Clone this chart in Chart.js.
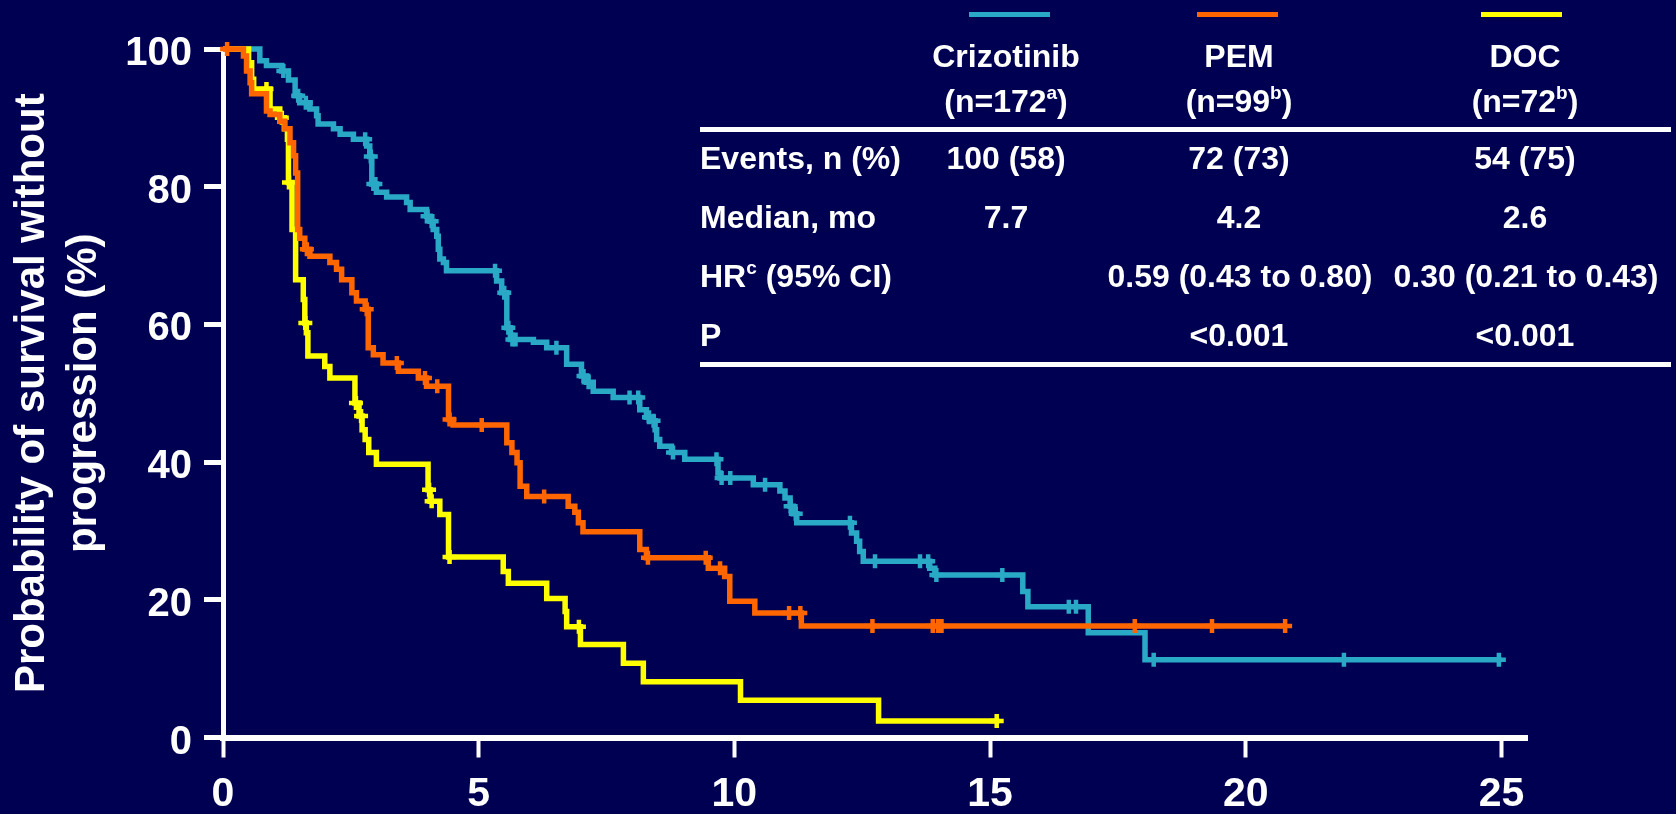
<!DOCTYPE html>
<html>
<head>
<meta charset="utf-8">
<script src="https://cdn.jsdelivr.net/npm/chart.js@4/dist/chart.umd.min.js"></script>
<style>
  body { margin: 0; background: #000052; }
  #wrap { position: relative; width: 1676px; height: 814px; overflow: hidden; font-family: "Liberation Sans", Arial, sans-serif; font-weight: bold; color: #fff; }
  #chart { position: absolute; left: 0; top: 0; }
  .t { position: absolute; font-size: 32px; line-height: 32px; white-space: nowrap; }
  .c { transform: translateX(-50%); }
  .t sup { font-size: 19px; line-height: 0; vertical-align: baseline; position: relative; top: -13px; }
  .rule { position: absolute; left: 700px; width: 971px; height: 5px; background: #fff; }
  .key { position: absolute; top: 12px; width: 81px; height: 5px; }
</style>
</head>
<body>
<div id="wrap">
  <canvas id="chart" width="1676" height="814"></canvas>

  <div class="key" style="left:969px;background:#29A9C5"></div>
  <div class="key" style="left:1197px;background:#FF6600"></div>
  <div class="key" style="left:1481px;background:#FFFF00"></div>

  <div class="t c" style="left:1006px;top:40px">Crizotinib</div>
  <div class="t c" style="left:1239px;top:40px">PEM</div>
  <div class="t c" style="left:1525px;top:40px">DOC</div>
  <div class="t c" style="left:1006px;top:85px">(n=172<sup>a</sup>)</div>
  <div class="t c" style="left:1239px;top:85px">(n=99<sup>b</sup>)</div>
  <div class="t c" style="left:1525px;top:85px">(n=72<sup>b</sup>)</div>
  <div class="rule" style="top:127px"></div>

  <div class="t" style="left:700px;top:142px">Events, n (%)</div>
  <div class="t c" style="left:1006px;top:142px">100 (58)</div>
  <div class="t c" style="left:1239px;top:142px">72 (73)</div>
  <div class="t c" style="left:1525px;top:142px">54 (75)</div>

  <div class="t" style="left:700px;top:201px">Median, mo</div>
  <div class="t c" style="left:1006px;top:201px">7.7</div>
  <div class="t c" style="left:1239px;top:201px">4.2</div>
  <div class="t c" style="left:1525px;top:201px">2.6</div>

  <div class="t" style="left:700px;top:260px">HR<sup>c</sup> (95% CI)</div>
  <div class="t c" style="left:1240px;top:260px">0.59 (0.43 to 0.80)</div>
  <div class="t c" style="left:1526px;top:260px">0.30 (0.21 to 0.43)</div>

  <div class="t" style="left:700px;top:319px">P</div>
  <div class="t c" style="left:1239px;top:319px">&lt;0.001</div>
  <div class="t c" style="left:1525px;top:319px">&lt;0.001</div>
  <div class="rule" style="top:362px"></div>
</div>

<script>
// Kaplan-Meier steps (months, % progression-free)
const critTimes = [0, 0.72, 0.85, 1.15, 1.28, 1.41, 1.50, 1.70, 1.83, 1.86, 2.16, 2.29, 2.55, 2.81, 2.87, 2.91, 3.00, 3.20, 3.59, 3.66, 3.98, 4.05, 4.11, 4.18, 4.21, 4.24, 4.31, 4.37, 5.35, 5.45, 5.55, 5.62, 6.07, 6.33, 6.72, 7.01, 7.11, 7.24, 7.63, 8.15, 8.28, 8.38, 8.45, 8.48, 8.54, 8.77, 9.03, 9.68, 9.72, 10.37, 10.89, 10.99, 11.09, 11.15, 11.22, 12.29, 12.39, 12.45, 12.52, 13.82, 13.92, 15.64, 15.74, 16.92, 18.03];
const critSurv = [100, 98.3, 97.6, 96.8, 95.5, 93.2, 92.2, 91.3, 90.3, 89.1, 88.4, 87.6, 86.9, 85.9, 84.4, 80.4, 79.2, 78.5, 77.7, 76.7, 75.7, 75.0, 73.8, 72.8, 70.9, 69.5, 69.0, 67.8, 66.3, 64.6, 59.5, 57.8, 57.4, 56.6, 54.2, 52.5, 51.6, 50.3, 49.4, 47.6, 46.5, 46.0, 44.7, 43.3, 42.3, 41.4, 40.4, 38.4, 37.7, 36.7, 35.8, 34.8, 33.6, 32.5, 31.2, 29.7, 28.5, 27.0, 25.6, 24.6, 23.6, 21.2, 19.0, 15.2, 11.3];
const critCensor = [1.18, 1.47, 1.62, 2.78, 2.89, 2.94, 2.98, 4.00, 4.08, 5.32, 5.50, 5.58, 5.66, 5.72, 6.52, 7.05, 7.15, 7.95, 8.12, 8.33, 8.42, 8.80, 9.65, 9.75, 9.92, 10.60, 11.10, 11.20, 12.26, 12.75, 13.63, 13.79, 13.95, 15.24, 16.54, 16.68, 18.20, 21.92, 24.95];
const critEnd = 25.0;

const pemTimes = [0, 0.40, 0.46, 0.53, 0.56, 0.85, 0.92, 1.11, 1.21, 1.31, 1.38, 1.42, 1.46, 1.50, 1.60, 1.70, 2.09, 2.22, 2.32, 2.52, 2.61, 2.78, 2.84, 2.94, 3.13, 3.43, 3.82, 3.98, 4.41, 4.50, 5.55, 5.65, 5.75, 5.81, 5.94, 6.75, 6.88, 6.95, 7.04, 8.15, 8.28, 9.49, 9.81, 9.91, 10.40, 11.31];
const pemSurv = [100, 99.0, 96.8, 95.1, 93.5, 91.0, 90.5, 89.5, 88.4, 86.4, 84.5, 82.0, 73.8, 72.5, 70.9, 69.9, 69.0, 68.0, 66.5, 64.6, 63.4, 62.2, 56.6, 55.6, 54.4, 53.2, 52.2, 51.0, 46.2, 45.4, 42.8, 41.4, 39.9, 36.5, 35.0, 33.6, 32.7, 31.2, 29.9, 27.3, 26.1, 24.6, 23.4, 19.8, 18.1, 16.2];
const pemCensor = [0.08, 1.64, 2.81, 3.40, 3.95, 4.19, 4.43, 5.06, 6.28, 8.31, 9.44, 9.72, 11.07, 11.29, 12.70, 13.88, 13.98, 14.05, 17.83, 19.34, 20.77];
const pemEnd = 20.8;

const docTimes = [0, 0.50, 0.56, 0.60, 0.92, 1.11, 1.20, 1.26, 1.28, 1.35, 1.42, 1.57, 1.60, 1.63, 1.66, 1.99, 2.09, 2.58, 2.66, 2.72, 2.78, 2.85, 3.00, 4.01, 4.05, 4.24, 4.41, 5.48, 5.58, 6.33, 6.69, 6.72, 6.99, 7.83, 8.22, 10.12, 12.82];
const docSurv = [100, 98.0, 95.6, 94.2, 91.3, 90.0, 88.4, 86.9, 80.6, 73.8, 66.5, 63.6, 60.2, 58.8, 55.4, 53.9, 52.2, 48.6, 46.7, 44.7, 43.3, 41.4, 39.7, 36.0, 34.3, 32.4, 26.2, 24.1, 22.4, 20.2, 18.3, 16.1, 13.5, 10.8, 8.1, 5.4, 2.4];
const docCensor = [0.85, 1.15, 1.29, 1.61, 2.60, 2.70, 4.03, 4.08, 4.43, 6.96, 15.13];
const docEnd = 15.18;

const xTicks = [0, 5, 10, 15, 20, 25];
const yTicks = [0, 20, 40, 60, 80, 100];

const TEAL = "#29A9C5";
const ORANGE = "#FF6600";
const YELLOW = "#FFFF00";
const FONT = "'Liberation Sans', Arial, sans-serif";

// step line points, plus a last point so the line runs out to the final censor
function stepPoints(times, surv, end) {
    const pts = times.map((t, i) => ({ x: t, y: surv[i] }));
    pts.push({ x: end, y: surv[surv.length - 1] });
    return pts;
}

// censor marks sit on whatever level the curve is at that time
function censorPoints(times, surv, censor) {
    return censor.map(c => {
        let s = surv[0];
        times.forEach((t, i) => { if (t <= c) s = surv[i]; });
        return { x: c, y: s };
    });
}

function curve(label, times, surv, end, color, order) {
    return {
        label: label,
        data: stepPoints(times, surv, end),
        showLine: true,
        stepped: true,
        borderColor: color,
        borderWidth: 5.5,
        borderJoinStyle: "miter",
        pointRadius: 0,
        clip: false,
        order: order
    };
}

function marks(label, times, surv, censor, color, order) {
    return {
        label: label,
        data: censorPoints(times, surv, censor),
        showLine: false,
        pointStyle: "cross",
        pointRadius: 7,
        borderWidth: 4.5,
        borderColor: color,
        backgroundColor: color,
        clip: false,
        order: order
    };
}

Chart.defaults.font.family = FONT;
Chart.defaults.font.weight = "bold";
Chart.defaults.color = "#fff";

const ctx = document.getElementById("chart").getContext("2d");
new Chart(ctx, {
    type: "scatter",
    data: {
        datasets: [
            marks("PEM censored", pemTimes, pemSurv, pemCensor, ORANGE, 0),
            curve("PEM", pemTimes, pemSurv, pemEnd, ORANGE, 1),
            marks("DOC censored", docTimes, docSurv, docCensor, YELLOW, 2),
            curve("DOC", docTimes, docSurv, docEnd, YELLOW, 3),
            marks("Crizotinib censored", critTimes, critSurv, critCensor, TEAL, 4),
            curve("Crizotinib", critTimes, critSurv, critEnd, TEAL, 5)
        ]
    },
    options: {
        responsive: false,
        animation: false,
        events: [],
        layout: { padding: { top: 49, right: 149, left: 0, bottom: 0 } },
        plugins: { legend: { display: false }, tooltip: { enabled: false } },
        scales: {
            x: {
                type: "linear",
                min: 0,
                max: 25.5,
                afterFit: (scale) => { scale.height = 76.5; },
                afterBuildTicks: (scale) => { scale.ticks = xTicks.map(v => ({ value: v })); },
                border: { color: "#fff", width: 6 },
                grid: { drawOnChartArea: false, drawTicks: true, tickLength: 20, tickWidth: 4, tickColor: "#fff" },
                ticks: { color: "#fff", padding: 13, font: { size: 41, weight: "bold" } }
            },
            y: {
                min: 0,
                max: 100,
                afterFit: (scale) => { scale.width = 223; },
                afterBuildTicks: (scale) => { scale.ticks = yTicks.map(v => ({ value: v })); },
                border: { color: "#fff", width: 5 },
                grid: { drawOnChartArea: false, drawTicks: true, tickLength: 19, tickWidth: 5, tickColor: "#fff" },
                ticks: { color: "#fff", padding: 12, labelOffset: 5, font: { size: 40, weight: "bold" } },
                title: {
                    display: true,
                    text: ["Probability of survival without", "progression (%)"],
                    color: "#fff",
                    padding: { top: 6, bottom: 0 },
                    font: { size: 42, weight: "bold", lineHeight: "52px" }
                }
            }
        }
    }
});
</script>
</body>
</html>
